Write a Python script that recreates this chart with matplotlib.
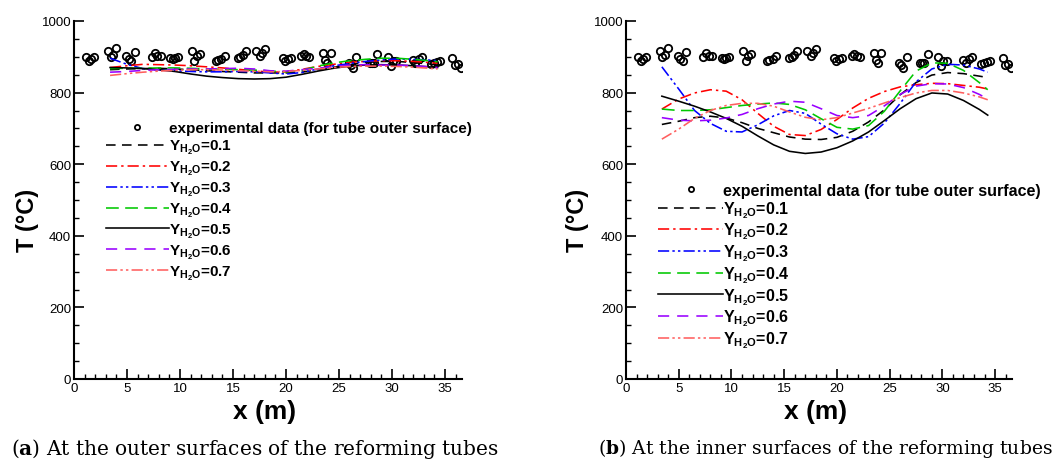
import matplotlib
matplotlib.use("Agg")
import matplotlib.pyplot as plt
from matplotlib.ticker import MultipleLocator

plt.rcParams["font.family"] = "Liberation Sans"
plt.rcParams["mathtext.fontset"] = "custom"
plt.rcParams["mathtext.bf"] = "Liberation Sans:bold"
plt.rcParams["mathtext.rm"] = "Liberation Sans:bold"
plt.rcParams["mathtext.sf"] = "DejaVu Serif:bold"

# experimental data (same in both panels)
x_exp = [1.16, 1.38, 1.63, 1.88, 3.2, 3.45, 3.7, 3.95, 4.93, 5.15, 5.4, 5.71,
         7.34, 7.6, 7.85, 8.16, 9.1, 9.3, 9.5, 9.8, 11.1, 11.36, 11.6, 11.86,
         13.4, 13.6, 13.9, 14.25, 15.5, 15.7, 15.95, 16.26, 17.2, 17.5, 17.77, 18.0,
         19.7, 19.9, 20.2, 20.46, 21.4, 21.65, 21.9, 22.2, 23.5, 23.7, 23.9, 24.2,
         25.9, 26.1, 26.3, 26.6, 27.9, 28.1, 28.3, 28.6, 29.6, 29.9, 30.1, 30.4,
         31.95, 32.2, 32.5, 32.8, 33.7, 33.96, 34.2, 34.5, 35.7, 35.97, 36.2, 36.5]
T_exp = [899, 887, 893, 899, 916, 899, 906, 924, 901, 893, 888, 913,
         899, 912, 903, 901, 896, 893, 896, 899, 917, 889, 901, 908,
         888, 890, 893, 903, 898, 899, 906, 917, 917, 903, 912, 921,
         897, 887, 893, 898, 901, 908, 903, 899, 910, 891, 884, 912,
         882, 877, 868, 899, 882, 884, 884, 908, 899, 875, 889, 888,
         891, 884, 893, 899, 880, 882, 886, 889, 897, 876, 880, 868]

x_sim = [3.4, 5, 6.5, 8, 9.5, 11, 12.5, 14, 15.5, 17, 18.5, 20, 21.5, 23,
         24.5, 26, 27.5, 29, 30.5, 32, 33.5, 34.3]

y_h2o = ["0.1", "0.2", "0.3", "0.4", "0.5", "0.6", "0.7"]

# (a) outer surfaces
outer = [
    [864, 866, 867, 868, 866, 864, 861, 859, 857, 855, 855, 855, 857, 864, 871, 878, 884, 887, 887, 884, 880, 877],
    [870, 875, 879, 878, 877, 875, 872, 869, 865, 861, 857, 858, 865, 873, 879, 885, 887, 889, 889, 887, 884, 882],
    [896, 879, 867, 863, 861, 859, 858, 858, 859, 858, 855, 852, 856, 866, 875, 881, 887, 891, 894, 893, 891, 889],
    [867, 868, 868, 869, 869, 868, 866, 865, 864, 863, 860, 858, 862, 874, 883, 889, 893, 896, 896, 893, 889, 886],
    [870, 869, 867, 864, 859, 852, 846, 842, 839, 838, 839, 843, 851, 860, 868, 874, 877, 878, 877, 875, 872, 870],
    [857, 859, 862, 864, 865, 866, 866, 867, 868, 866, 861, 860, 864, 868, 873, 877, 878, 877, 877, 875, 872, 870],
    [848, 853, 857, 860, 862, 864, 864, 863, 861, 860, 858, 859, 862, 866, 870, 873, 874, 874, 873, 871, 868, 866],
]

# (b) inner surfaces
inner = [
    [711, 720, 730, 734, 729, 716, 700, 688, 676, 670, 669, 675, 692, 718, 752, 794, 828, 849, 856, 853, 846, 842],
    [754, 782, 799, 808, 804, 780, 742, 706, 683, 680, 697, 725, 757, 784, 803, 816, 822, 826, 825, 820, 815, 810],
    [872, 810, 750, 714, 692, 690, 710, 735, 750, 742, 712, 685, 670, 677, 715, 770, 830, 866, 879, 877, 866, 857],
    [754, 750, 750, 752, 758, 764, 768, 771, 767, 752, 727, 703, 698, 708, 748, 805, 860, 883, 882, 862, 828, 808],
    [790, 776, 762, 746, 728, 706, 679, 654, 636, 630, 634, 646, 665, 690, 722, 755, 783, 799, 796, 778, 753, 737],
    [730, 723, 721, 723, 729, 739, 755, 768, 776, 773, 755, 736, 730, 736, 763, 795, 818, 825, 824, 814, 795, 782],
    [670, 698, 728, 750, 764, 770, 770, 762, 746, 731, 724, 730, 743, 756, 771, 786, 799, 806, 806, 799, 788, 780],
]

colors = ["black", "#ff0000", "#0000ff", "#00c800", "black", "#9900ff", "#ff5f5f"]
dashes = [(6, 4), (7, 2.5, 1.5, 2.5), (7, 2, 1.5, 2, 1.5, 2), (8, 4), None, (7, 5), (7, 2, 1.5, 2, 1.5, 2)]

fig = plt.figure(figsize=(10.61, 4.64), dpi=100)
W, H = 1061, 464
ax_a = fig.add_axes([74 / W, 1 - 380 / H, 388 / W, 358 / H])
ax_b = fig.add_axes([626 / W, 1 - 380 / H, 386 / W, 358 / H])

# axes, curves, legend top-left (px), legend font size, label spacing, ylabel x
panels = [
    (ax_a, outer, (106, 122), 11, 0.19, -0.09),
    (ax_b, inner, (658, 184), 11.5, 0.07, -0.095),
]

for ax, curves, leg_pos, leg_fs, leg_sp, ylab_x in panels:
    ax.plot(x_exp, T_exp, "o", ms=5.3, mfc="none", mec="black", mew=1.3,
            label="experimental data (for tube outer surface)")
    for vals, c, d, y in zip(curves, colors, dashes, y_h2o):
        line, = ax.plot(x_sim, vals, color=c, lw=1.15,
                        label=r"$\mathbf{Y_{H_2O}}$=" + y)
        if d is not None:
            line.set_dashes(d)

    ax.set_xlim(0, 36.6)
    ax.set_ylim(0, 1000)
    ax.xaxis.set_major_locator(MultipleLocator(5))
    ax.xaxis.set_minor_locator(MultipleLocator(1))
    ax.yaxis.set_major_locator(MultipleLocator(200))
    ax.yaxis.set_minor_locator(MultipleLocator(50))
    ax.tick_params(which="major", direction="in", length=7, width=1.2, labelsize=9.5, pad=2)
    ax.tick_params(which="minor", direction="in", length=3.5, width=1)
    ax.spines["top"].set_visible(False)
    ax.spines["right"].set_visible(False)
    ax.spines["left"].set_linewidth(1.5)
    ax.spines["bottom"].set_linewidth(1.5)

    ax.set_xlabel("x (m)", fontsize=19, fontweight="bold")
    ax.set_ylabel("T (°C)", fontsize=17, fontweight="bold")
    ax.xaxis.set_label_coords(0.49, -0.055)
    ax.yaxis.set_label_coords(ylab_x, 0.447)

    ax.legend(loc="upper left", bbox_to_anchor=(leg_pos[0] / W, 1 - leg_pos[1] / H),
              bbox_transform=fig.transFigure, frameon=False, borderpad=0,
              borderaxespad=0, handlelength=4.1, handletextpad=0,
              labelspacing=leg_sp, markerscale=0.7,
              prop={"size": leg_fs, "weight": "bold"})

fig.text(255 / W, 1 - 449 / H, r"($\mathsf{a}$) At the outer surfaces of the reforming tubes",
         family="DejaVu Serif", fontsize=14.5, ha="center", va="center")
fig.text(825 / W, 1 - 449 / H, r"($\mathsf{b}$) At the inner surfaces of the reforming tubes",
         family="DejaVu Serif", fontsize=13.5, ha="center", va="center")

fig.savefig("out.png", dpi=100)
